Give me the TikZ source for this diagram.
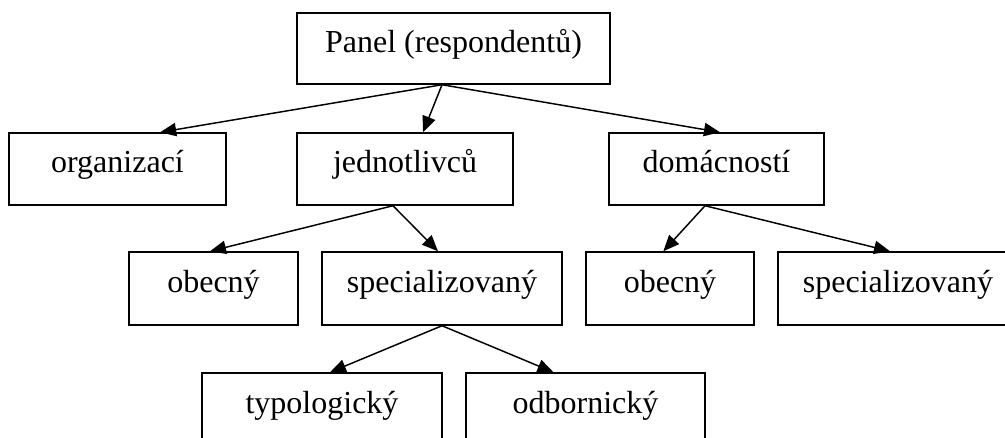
\documentclass[tikz,border=0pt]{standalone}
\usepackage{fontspec}
\setmainfont{Liberation Serif}
\usetikzlibrary{arrows.meta}

\begin{document}
\begin{tikzpicture}[x=0.75pt,y=-0.75pt,
    box/.style={draw,line width=1.1pt,inner sep=0pt,
      font=\fontsize{24}{29}\selectfont,text height=18pt,text depth=12pt},
    link/.style={-{Triangle[length=12pt,width=10pt]},line width=1.1pt}]
  \useasboundingbox (0,0) rectangle (1005,438);

  \node[box,minimum width=234.75pt,minimum height=53.25pt] (panel) at (453.5,48.5) {Panel (respondentů)};

  \node[box,minimum width=162.75pt,minimum height=54pt] (org) at (117.5,169) {organizací};
  \node[box,minimum width=162pt,minimum height=54pt] (jedn) at (405,169) {jednotlivců};
  \node[box,minimum width=161.25pt,minimum height=54pt] (dom) at (716.5,169) {domácností};

  \node[box,minimum width=126.75pt,minimum height=54.75pt] (obec1) at (213.5,288.5) {obecný};
  \node[box,minimum width=180pt,minimum height=54.75pt] (spec1) at (442,288.5) {specializovaný};
  \node[box,minimum width=126pt,minimum height=54.75pt] (obec2) at (670,288.5) {obecný};
  \node[box,minimum width=180pt,minimum height=54.75pt] (spec2) at (898,288.5) {specializovaný};

  \node[box,minimum width=180pt,minimum height=54.75pt] (typ) at (322,409.5) {typologický};
  \node[box,minimum width=179.25pt,minimum height=54.75pt] (odb) at (585.5,409.5) {odbornický};

  \draw[link] ([xshift=-8.6pt]panel.south) to ([xshift=32pt]org.north);
  \draw[link] ([xshift=-8.6pt]panel.south) to ([xshift=13.5pt]jedn.north);
  \draw[link] ([xshift=-8.6pt]panel.south) to ([xshift=2.6pt]dom.north);

  \draw[link] ([xshift=-9pt]jedn.south) to ([xshift=-2.6pt]obec1.north);
  \draw[link] ([xshift=-9pt]jedn.south) to ([xshift=-3pt]spec1.north);

  \draw[link] ([xshift=-8.6pt]dom.south) to ([xshift=-5pt]obec2.north);
  \draw[link] ([xshift=-8.6pt]dom.south) to ([xshift=-6pt]spec2.north);

  \draw[link] (spec1.south) to ([xshift=6pt]typ.north);
  \draw[link] (spec1.south) to ([xshift=-24pt]odb.north);
\end{tikzpicture}
\end{document}
